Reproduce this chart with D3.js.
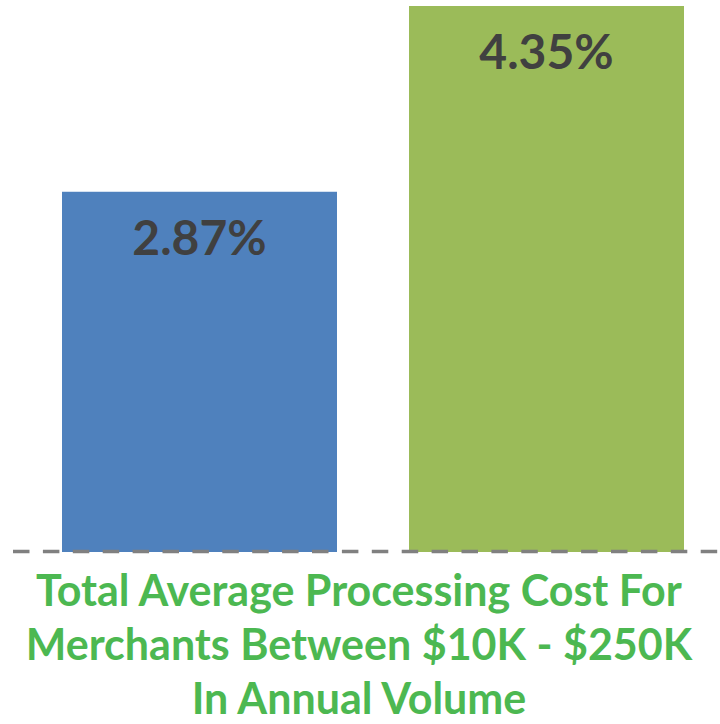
<!DOCTYPE html>
<html>
<head>
<meta charset="utf-8">
<script src="https://cdn.jsdelivr.net/npm/d3@7"></script>
<style>
  html, body { margin: 0; padding: 0; background: #ffffff; }
  svg { display: block; }
</style>
</head>
<body>
<svg></svg>
<script>
//data
const categories = ["Group A", "Group B"];
const values = [2.87, 4.35];
const barColors = ["#4F81BD", "#9BBB59"];
const titleLines = [
    "Total Average Processing Cost For",
    "Merchants Between $10K - $250K",
    "In Annual Volume"
];

//constants
const width = 720;
const height = 724;
const baseY = 552;

function main() {

    let svg = d3.select("svg")
        .attr("width", width)
        .attr("height", height)
        .style("background-color", "#ffffff");

    //scales
    let xScale = d3.scaleBand()
        .domain(categories)
        .range([62, 684])
        .paddingInner(72 / 347)
        .paddingOuter(0);

    let yScale = d3.scaleLinear()
        .domain([0, d3.max(values)])
        .range([baseY, 6]);

    let data = categories.map((c, i) => ({cat: c, value: values[i], color: barColors[i]}));

    //bars
    svg.selectAll(".bar")
        .data(data)
        .enter()
        .append("rect")
        .attr("class", "bar")
        .attr("x", d => xScale(d.cat))
        .attr("y", d => yScale(d.value))
        .attr("width", xScale.bandwidth())
        .attr("height", d => baseY - yScale(d.value))
        .attr("fill", d => d.color);

    //value labels
    svg.selectAll(".label")
        .data(data)
        .enter()
        .append("text")
        .attr("class", "label")
        .attr("x", d => xScale(d.cat) + xScale.bandwidth() / 2)
        .attr("y", d => yScale(d.value) + 63)
        .style("text-anchor", "middle")
        .style("font-family", "Lato, 'Open Sans', sans-serif")
        .style("font-weight", "bold")
        .style("font-size", "48px")
        .style("fill", "#404040")
        .text(d => d.value.toFixed(2) + "%");

    //dashed baseline
    svg.append("line")
        .attr("x1", 13)
        .attr("x2", width)
        .attr("y1", baseY - 0.5)
        .attr("y2", baseY - 0.5)
        .attr("stroke", "#808080")
        .attr("stroke-width", 3.5)
        .attr("stroke-dasharray", "16.5,13.4");

    //title
    svg.selectAll(".title")
        .data(titleLines)
        .enter()
        .append("text")
        .attr("class", "title")
        .attr("x", width / 2 - 1)
        .attr("y", (d, i) => 606 + i * 54)
        .style("text-anchor", "middle")
        .style("font-family", "Lato, 'Open Sans', sans-serif")
        .style("font-weight", "bold")
        .style("font-size", "43px")
        .style("fill", "#4CB851")
        .text(d => d);
}

main();
</script>
</body>
</html>
